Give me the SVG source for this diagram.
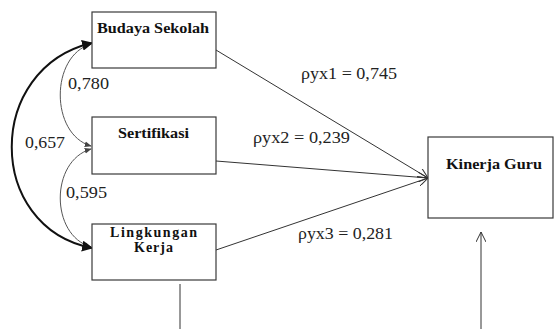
<svg xmlns="http://www.w3.org/2000/svg" width="555" height="329" viewBox="0 0 555 329">
<style>
.box{fill:#fff;stroke:#3a3a3a;stroke-width:1.2}
.lbl{font-family:"Liberation Serif","Times New Roman",serif;font-weight:bold;font-size:14px;fill:#111}
.num{font-family:"Liberation Serif","Times New Roman",serif;font-size:16px;fill:#222}
.ln{fill:none;stroke:#333;stroke-width:1}
.cv{fill:none;stroke:#555;stroke-width:1}
.big{fill:none;stroke:#111;stroke-width:2}
</style>
<defs>
<marker id="vopen" viewBox="0 0 10 10" refX="10" refY="5" markerWidth="10" markerHeight="10" markerUnits="userSpaceOnUse" orient="auto"><path d="M0,0 L10,5 L0,10" fill="none" stroke="#333" stroke-width="1"/></marker>
<marker id="small" viewBox="0 0 10 10" refX="9" refY="5" markerWidth="7" markerHeight="7" markerUnits="userSpaceOnUse" orient="auto-start-reverse"><path d="M0,1 L10,5 L0,9 Z" fill="#444"/></marker>
<marker id="thick" viewBox="0 0 10 10" refX="9" refY="5" markerWidth="11" markerHeight="11" markerUnits="userSpaceOnUse" orient="auto-start-reverse"><path d="M0,0 L10,5 L0,10 Z" fill="#111"/></marker>
</defs>
<g id="connectors">
<path class="ln" d="M216,50 L428,178" marker-end="url(#vopen)"/>
<path class="ln" d="M216,161 L428,178" marker-end="url(#vopen)"/>
<path class="ln" d="M216,250 L428,178" marker-end="url(#vopen)"/>
<path class="ln" d="M481,329 L481,232" marker-end="url(#vopen)"/>
<path class="ln" d="M180,284 L180,329"/>
<path class="cv" d="M91,44 C50,56 50,134 91,146" marker-start="url(#small)" marker-end="url(#small)"/>
<path class="cv" d="M91,149 C50,161 50,235 91,247" marker-start="url(#small)" marker-end="url(#small)"/>
<path class="big" d="M92,43 C-15,68 -15,227 92,248" marker-start="url(#thick)" marker-end="url(#thick)"/>
<text class="num" x="68" y="89" textLength="41" lengthAdjust="spacingAndGlyphs">0,780</text>
<text class="num" x="25" y="148" textLength="40" lengthAdjust="spacingAndGlyphs">0,657</text>
<text class="num" x="66" y="198" textLength="41" lengthAdjust="spacingAndGlyphs">0,595</text>
<text class="num" x="301" y="79" textLength="96" lengthAdjust="spacingAndGlyphs">ρyx1 = 0,745</text>
<text class="num" x="253" y="143" textLength="97" lengthAdjust="spacingAndGlyphs">ρyx2 = 0,239</text>
<text class="num" x="298" y="239" textLength="95" lengthAdjust="spacingAndGlyphs">ρyx3 = 0,281</text>
</g>
<g id="budaya">
<rect class="box" x="92" y="12" width="124" height="56"/>
<text class="lbl" x="97" y="33" textLength="112" lengthAdjust="spacingAndGlyphs">Budaya Sekolah</text>
</g>
<g id="sertifikasi">
<rect class="box" x="92" y="117" width="124" height="57"/>
<text class="lbl" x="118" y="138" textLength="71" lengthAdjust="spacingAndGlyphs">Sertifikasi</text>
</g>
<g id="lingkungan">
<rect class="box" x="92" y="224" width="124" height="56"/>
<text class="lbl" x="110" y="237" textLength="87" lengthAdjust="spacing">Lingkungan</text>
<text class="lbl" x="134" y="252" textLength="39" lengthAdjust="spacing">Kerja</text>
</g>
<g id="kinerja">
<rect class="box" x="428" y="137" width="125" height="81"/>
<text class="lbl" x="446" y="169" textLength="96" lengthAdjust="spacingAndGlyphs">Kinerja Guru</text>
</g>
</svg>
